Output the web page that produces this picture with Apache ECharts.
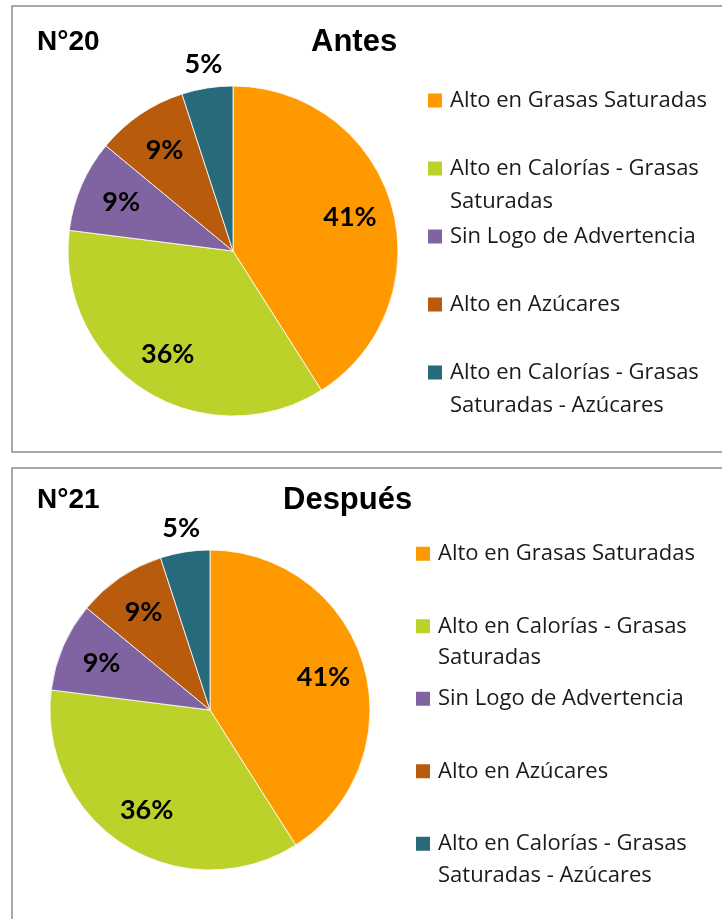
<!DOCTYPE html>
<html>
<head>
<meta charset="utf-8">
<script src="https://cdn.jsdelivr.net/npm/echarts@6/dist/echarts.min.js"></script>
<style>
  html, body { margin: 0; padding: 0; background: #fff; }
  #chart { width: 722px; height: 919px; }
</style>
</head>
<body>
<div id="chart"></div>
<script>
const categories = [
    'Alto en Grasas Saturadas',
    'Alto en Calorías - Grasas Saturadas',
    'Sin Logo de Advertencia',
    'Alto en Azúcares',
    'Alto en Calorías - Grasas Saturadas - Azúcares'
];
const legendLabels = [
    'Alto en Grasas Saturadas\n ',
    'Alto en Calorías - Grasas\nSaturadas',
    'Sin Logo de Advertencia\n ',
    'Alto en Azúcares\n ',
    'Alto en Calorías - Grasas\nSaturadas - Azúcares'
];
const colors = ['#ff9900', '#bcd22b', '#8064a2', '#b95b0c', '#276a7b'];
const beforeValues = [41, 36, 9, 9, 5];
const afterValues = [41, 36, 9, 9, 5];

const labelFont = {
    fontFamily: 'Lato, sans-serif',
    fontWeight: 'bold',
    fontSize: 27,
    color: '#000'
};

// one pie = visible slices + two transparent rings that only carry labels
const makePie = function (values, center, r) {
    const base = {
        type: 'pie',
        center: center,
        startAngle: 90,
        clockwise: true,
        animation: false,
        emphasis: { disabled: true },
        labelLine: { show: false }
    };
    const slices = Object.assign({}, base, {
        radius: r,
        itemStyle: { borderColor: '#fff', borderWidth: 0.8 },
        label: { show: false },
        data: values.map((v, i) => ({ name: categories[i], value: v, itemStyle: { color: colors[i] } }))
    });
    const inner = Object.assign({}, base, {
        radius: [r * 0.44, r],
        silent: true,
        itemStyle: { color: 'rgba(0,0,0,0)' },
        label: Object.assign({ position: 'inside', formatter: '{c}%' }, labelFont),
        data: values.map((v, i) => ({ name: categories[i], value: v, label: { show: v >= 7 } }))
    });
    const outer = Object.assign({}, base, {
        radius: [r, r * 1.26],
        silent: true,
        itemStyle: { color: 'rgba(0,0,0,0)' },
        label: Object.assign({ position: 'inside', formatter: '{c}%' }, labelFont),
        data: values.map((v, i) => ({ name: categories[i], value: v, label: { show: v < 7 } }))
    });
    return [slices, inner, outer];
};

const makeLegend = function (left, top, lineH, gap) {
    const h = lineH * 2;
    const y0 = lineH / 2 - 7;
    return {
        orient: 'vertical',
        left: left,
        top: top,
        padding: 0,
        itemWidth: 17,
        itemHeight: h,
        itemGap: gap,
        selectedMode: false,
        icon: 'path://M0,0h0.01M17,' + h + 'h0.01M0,' + y0 + 'h14v14h-14Z',
        itemStyle: { borderWidth: 0 },
        data: categories,
        formatter: name => legendLabels[categories.indexOf(name)],
        textStyle: {
            fontFamily: '"Open Sans", sans-serif',
            fontSize: 22,
            lineHeight: lineH,
            color: '#1a1a1a'
        }
    };
};

const titleFont = {
    fontFamily: 'Liberation Sans, Arial, sans-serif',
    fontWeight: 'bold',
    color: '#000'
};

const chart = echarts.init(document.getElementById('chart'));
chart.setOption({
    animation: false,
    title: [
        { text: 'N°20', left: 37, top: 28, padding: 0, textStyle: Object.assign({ fontSize: 28 }, titleFont) },
        { text: 'Antes', left: 311, top: 27, padding: 0, textStyle: Object.assign({ fontSize: 31 }, titleFont) },
        { text: 'N°21', left: 37, top: 486, padding: 0, textStyle: Object.assign({ fontSize: 28 }, titleFont) },
        { text: 'Después', left: 283, top: 485, padding: 0, textStyle: Object.assign({ fontSize: 31 }, titleFont) }
    ],
    legend: [
        makeLegend(428, 84, 33, 2),
        makeLegend(416, 538, 31.5, 9.5)
    ],
    graphic: [
        { type: 'rect', silent: true, z: -10, shape: { x: 12, y: 6, width: 740, height: 446 }, style: { fill: 'none', stroke: '#8c8c8c', lineWidth: 1.5 } },
        { type: 'rect', silent: true, z: -10, shape: { x: 12, y: 468, width: 740, height: 480 }, style: { fill: 'none', stroke: '#8c8c8c', lineWidth: 1.5 } }
    ],
    series: [].concat(
        makePie(beforeValues, [233, 251], 165),
        makePie(afterValues, [210, 710], 160)
    )
});
</script>
</body>
</html>
